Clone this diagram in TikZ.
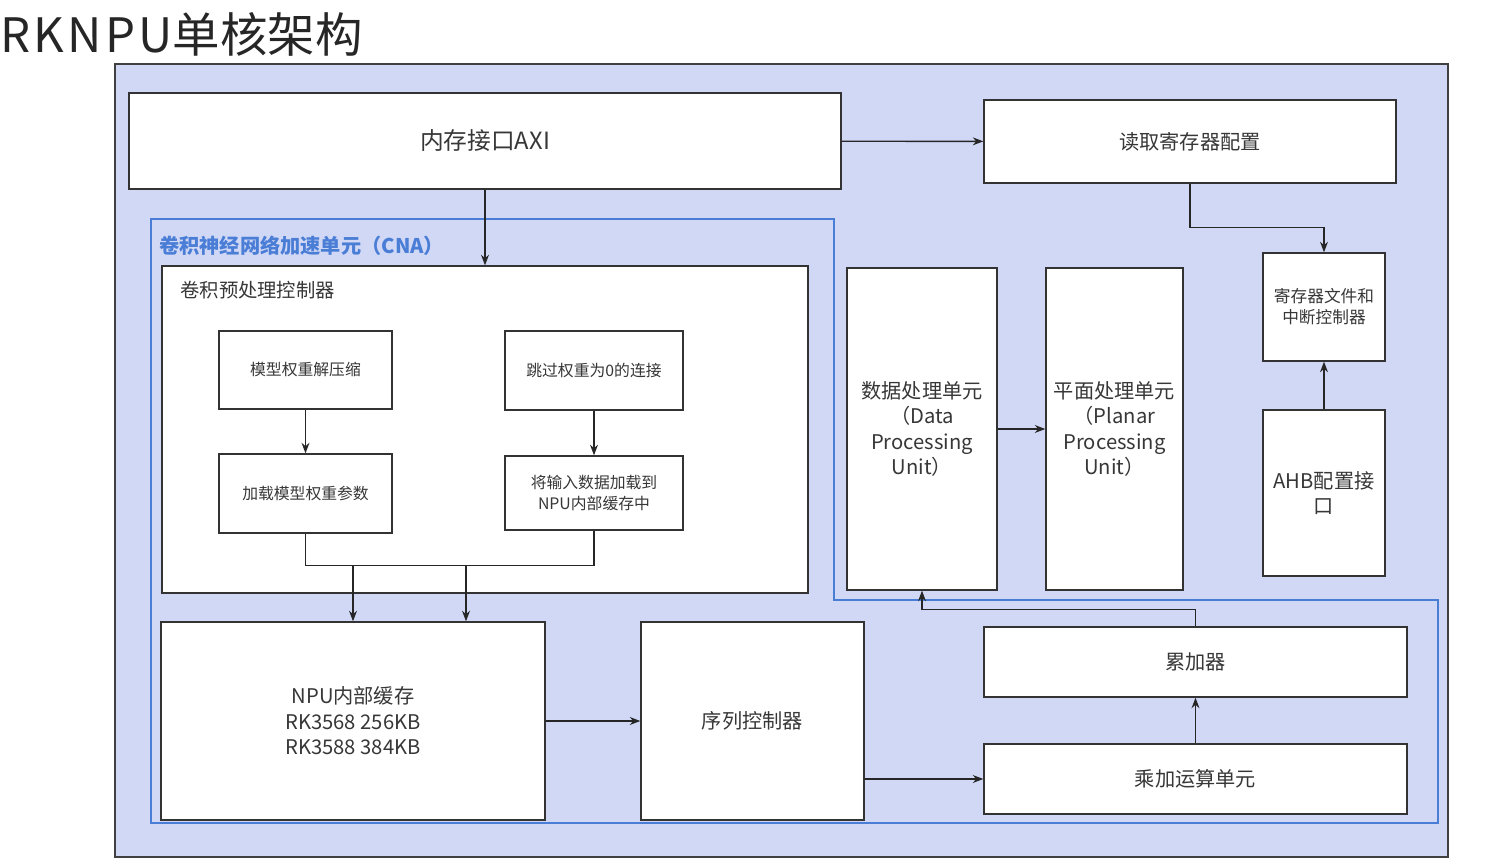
\documentclass[tikz,border=0pt]{standalone}
\usepackage{fontspec}
\setmainfont{Noto Sans CJK SC}
\usetikzlibrary{positioning,arrows.meta}

\definecolor{panelbg}{RGB}{208,216,245}
\definecolor{cnablue}{RGB}{74,125,214}
\definecolor{txtgray}{RGB}{55,55,55}

\tikzset{
  blk/.style={draw=black!80, fill=white, line width=0.8pt, inner sep=2pt, align=center, text=txtgray, font=\fontsize{11.5}{14.5}\selectfont},
  smallblk/.style={blk, font=\fontsize{9}{11.5}\selectfont},
  link/.style={draw=black!85, line width=0.8pt, -{Stealth[length=6pt,width=4.5pt]}}
}

\begin{document}
\begin{tikzpicture}[x=0.02cm, y=-0.02cm]
\useasboundingbox (0,0) rectangle (1495,865);

\node[anchor=west, inner sep=0, text=black!85, font=\fontsize{27}{30}\selectfont] (title) at (0,34) {{\addfontfeatures{LetterSpace=7}RKNPU}单核架构};

\draw [fill=panelbg, draw=black!75, line width=0.9pt] (115,64) rectangle (1448,857);

% CNA region
\draw [cnablue, line width=1.6pt] (151,219) -- (834,219) -- (834,600) -- (1438,600) -- (1438,823) -- (151,823) -- cycle;
\node [anchor=west, inner sep=0, text=cnablue, font=\fontsize{11.5}{14}\selectfont\bfseries] (cnalbl) at (159,246) {卷积神经网络加速单元（CNA）};

\node [blk, minimum width=14.24cm, minimum height=1.92cm, font=\fontsize{13.5}{16}\selectfont] (axi) at (485,141) {内存接口AXI};
\node [blk, minimum width=8.24cm, minimum height=1.66cm] (rdcfg) at (1190,141.5) {读取寄存器配置};

\node [blk, minimum width=12.92cm, minimum height=6.54cm] (pre) at (485,429.5) {};
\node [anchor=west, inner sep=0, text=txtgray, font=\fontsize{11}{13}\selectfont] (prelbl) at (180,290) {卷积预处理控制器};

\node [smallblk, minimum width=3.46cm, minimum height=1.56cm] (decomp) at (305.5,370) {模型权重解压缩};
\node [smallblk, minimum width=3.56cm, minimum height=1.58cm] (skip) at (594,370.5) {跳过权重为0的连接};
\node [smallblk, minimum width=3.46cm, minimum height=1.58cm] (loadw) at (305.5,493.5) {加载模型权重参数};
\node [smallblk, minimum width=3.56cm, minimum height=1.48cm] (loadin) at (594,493) {将输入数据加载到\\NPU内部缓存中};

\node [blk, minimum width=7.68cm, minimum height=3.96cm] (buf) at (353,721) {NPU内部缓存\\RK3568 256KB\\RK3588 384KB};
\node [blk, minimum width=4.46cm, minimum height=3.96cm] (seq) at (752.5,721) {序列控制器};
\node [blk, minimum width=8.46cm, minimum height=1.40cm] (acc) at (1195.5,662) {累加器};
\node [blk, minimum width=8.46cm, minimum height=1.40cm] (mac) at (1195.5,779) {乘加运算单元};

\node [blk, minimum width=3.00cm, minimum height=6.44cm, text width=2.7cm] (dpu) at (922,429) {数据处理单元\\（Data\\Processing\\Unit）};
\node [blk, minimum width=2.74cm, minimum height=6.44cm, text width=2.5cm] (ppu) at (1114.5,429) {平面处理单元\\（Planar\\Processing\\Unit）};

\node [blk, minimum width=2.44cm, minimum height=2.16cm, font=\fontsize{9.5}{12}\selectfont] (regf) at (1324,307) {寄存器文件和\\中断控制器};
\node [blk, minimum width=2.44cm, minimum height=3.32cm] (ahb) at (1324,493) {AHB配置接\\口};

% connections
\draw [link] (axi) -- (rdcfg);
\draw [link] (axi.south) -- (pre.north);
\draw [link] (decomp) -- (loadw);
\draw [link] (skip) -- (loadin);

\draw [draw=black!85, line width=0.8pt] (loadw.south) -- ++(0,32) -| (loadin.south);
\coordinate (m1) at (353,565);
\coordinate (m2) at (466,565);
\draw [link] (m1) -- (m1 |- buf.north);
\draw [link] (m2) -- (m2 |- buf.north);

\draw [link] (buf) -- (seq);
\draw [link] (seq.east |- mac) -- (mac.west);
\draw [link] (mac) -- (acc);
\draw [link] (acc.north) -- ++(0,-17) -| (dpu.south);
\draw [link] (dpu) -- (ppu);
\draw [link] (ahb) -- (regf);
\draw [link] (rdcfg.south) -- ++(0,44) -| (regf.north);
\end{tikzpicture}
\end{document}
